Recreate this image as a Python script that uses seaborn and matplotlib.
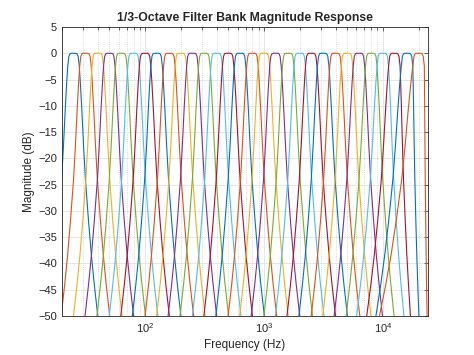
import numpy as np
import pandas as pd
import matplotlib
matplotlib.use("Agg")
import matplotlib.pyplot as plt
import seaborn as sns

# 1/3-octave band centre frequencies (Hz)
centers = [25, 31.5, 40, 50, 63, 80, 100, 125, 160, 200, 250, 315, 400, 500, 630,
           800, 1000, 1250, 1600, 2000, 2500, 3150, 4000, 5000, 6300, 8000, 10000,
           12500, 16000, 20000]

# one-sided magnitude profile (offset in octaves, dB)
shape_oct = [0.0, 0.06, 0.10, 0.13, 0.16, 0.19, 0.23, 0.28, 0.333, 0.42, 0.5, 0.58, 0.667, 0.75, 0.85]
shape_db = [0.0, 0.0, -0.1, -0.6, -2.4, -5.5, -10.5, -17.5, -24.0, -32.0, -38.5, -44.0, -49.3, -54.0, -58.5]

# skirt widening / narrowing of the top bands near Nyquist
low_stretch = [1.0] * 24 + [1.03, 1.05, 1.1, 1.18, 1.37, 1.8]
high_stretch = [1.0] * 23 + [0.98, 0.96, 0.92, 0.83, 0.56, 0.33, 0.15]

matlab_colors = ['#0072BD', '#D95319', '#EDB120', '#7E2F8E', '#77AC30', '#4DBEEE', '#A2142F']

rows = []
for i, fc in enumerate(centers):
    knee = shape_oct[4]
    for side, s in ((-1, low_stretch[i]), (1, high_stretch[i])):
        pts = list(zip(shape_oct, shape_db))
        if side < 0:
            pts = pts[::-1]
        for o, d in pts:
            if o > knee:
                o = knee + (o - knee) * s
            rows.append((i, fc * 2 ** (side * o), d))
df = pd.DataFrame(rows, columns=['band', 'freq', 'db'])

sns.set_style("white")
plt.rcParams['font.family'] = ['Liberation Sans', 'DejaVu Sans']

fig = plt.figure(figsize=(4.74, 3.55), dpi=100)
ax = fig.add_axes([62 / 474, 1 - 316 / 355, 366 / 474, 289 / 355])

palette = [matlab_colors[i % 7] for i in range(len(centers))]
sns.lineplot(data=df, x='freq', y='db', hue='band', palette=palette, sort=False,
             estimator=None, legend=False, lw=0.8, ax=ax)

ax.set_xscale('log')
ax.set_xlim(20, 24000)
ax.set_ylim(-50, 5)
ax.set_yticks(range(-50, 6, 5))

ax.grid(True, which='major', color='#e3e3e3', lw=0.6)
ax.grid(True, which='minor', axis='x', ls=':', color='#cccccc', lw=0.6)
ax.set_axisbelow(True)

ax.tick_params(which='both', direction='in', top=True, right=True, colors='#262626',
               labelsize=8, width=0.5)
ax.tick_params(which='major', length=3)
ax.tick_params(which='minor', length=1.8)
for sp in ax.spines.values():
    sp.set_color('#262626')
    sp.set_linewidth(0.6)

ax.set_title('1/3-Octave Filter Bank Magnitude Response', fontsize=8.8,
             fontweight='bold', pad=4)
ax.set_xlabel('Frequency (Hz)', fontsize=8.5, color='#262626', labelpad=3)
ax.set_ylabel('Magnitude (dB)', fontsize=8.5, color='#262626', labelpad=2)

fig.savefig('out.png', dpi=100)
